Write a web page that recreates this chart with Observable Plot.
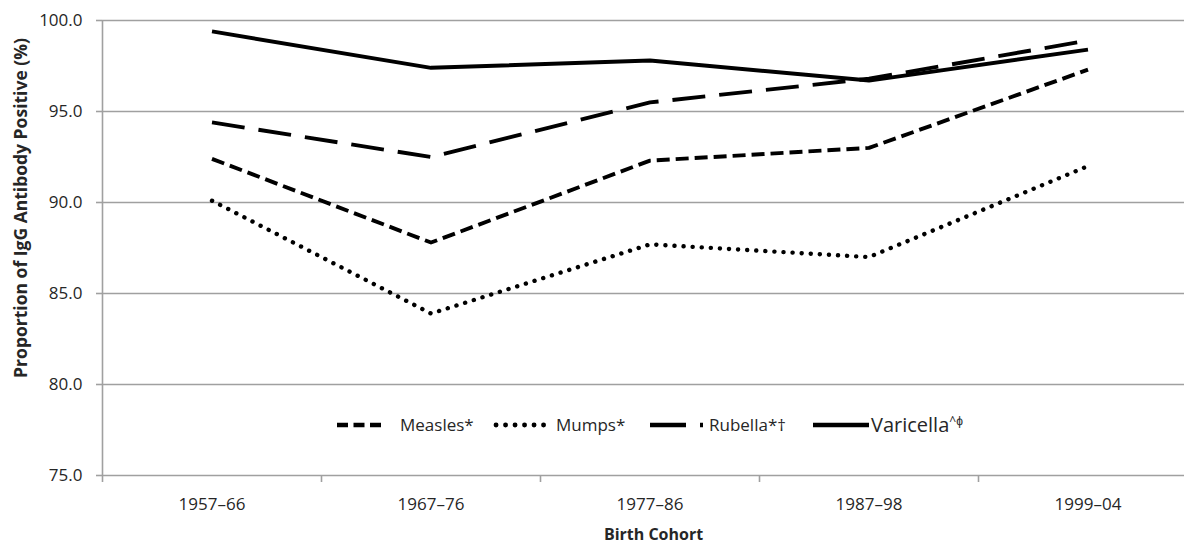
<!DOCTYPE html>
<html><head><meta charset="utf-8">
<script src="https://cdn.jsdelivr.net/npm/d3@7"></script>
<script src="https://cdn.jsdelivr.net/npm/@observablehq/plot@0.6"></script>
<style>
body{margin:0;background:#fff;font-family:"Open Sans",sans-serif}
#wrap{position:relative;width:1184px;height:544px}
</style>
</head><body><div id="wrap"></div>
<script>
const cohorts = ["1957–66", "1967–76", "1977–86", "1987–98", "1999–04"];
const measles = [92.4, 87.8, 92.3, 93.0, 97.3];
const mumps = [90.1, 83.9, 87.7, 87.0, 92.0];
const rubella = [94.4, 92.5, 95.5, 96.8, 98.9];
const varicella = [99.4, 97.4, 97.8, 96.7, 98.4];
const seriesNames = ["Measles*", "Mumps*", "Rubella*†", "Varicella"];
const yTicks = [75, 80, 85, 90, 95, 100];
const yTitle = "Proportion of IgG Antibody Positive (%)";
const xTitle = "Birth Cohort";

const seriesValues = [measles, mumps, rubella, varicella];
const styles = [
  {dash: "13,6", legendDash: "11,5.5", cap: "butt", w: 3.9},
  {dash: "0.1,9", legendDash: "0.1,9.4", cap: "round", w: 4.4},
  {dash: "33,14", legendDash: "36,14", cap: "butt", w: 3.9},
  {dash: null, legendDash: null, cap: "butt", w: 3.9}
];
const rows = seriesNames.flatMap((s, k) => cohorts.map((c, i) => ({series: s, k, idx: i, cohort: c, value: seriesValues[k][i]})));
const grid = "#a0a0a0";
const ink = "#262626";

const lineMarks = seriesNames.map((s, k) => Plot.line(rows.filter(r => r.k === k), {
  x: d => d.idx + 0.5, y: "value", stroke: "#000", strokeWidth: styles[k].w,
  strokeDasharray: styles[k].dash, strokeLinecap: styles[k].cap, strokeLinejoin: "round"
}));

const chart = Plot.plot({
  width: 1184, height: 544,
  marginLeft: 102, marginRight: 0, marginTop: 20, marginBottom: 69,
  style: {fontFamily: "Open Sans, sans-serif", background: "#fff", color: ink},
  x: {domain: [0, cohorts.length], range: [102, 102 + 219 * cohorts.length]},
  y: {domain: [75, 100]},
  marks: [
    Plot.ruleY(yTicks, {stroke: grid, strokeWidth: 1.6}),
    Plot.ruleX([0], {y1: 75, y2: 100, stroke: grid, strokeWidth: 1.6}),
    Plot.axisY({ticks: yTicks, tickSize: 6, tickPadding: 14, tickFormat: d3.format(".1f"), stroke: grid, strokeWidth: 1.6, fill: ink, fontSize: 17, label: null}),
    Plot.axisX({ticks: d3.range(cohorts.length), tickSize: 7, tickFormat: () => "", stroke: grid, strokeWidth: 1.6, label: null}),
    Plot.axisX({ticks: cohorts.map((c, i) => i + 0.5), tickSize: 0, tickPadding: 22, tickFormat: v => cohorts[Math.round(v - 0.5)], fill: ink, fontSize: 17, label: null}),
    ...lineMarks,
    Plot.text([yTitle], {frameAnchor: "left", textAnchor: "middle", lineAnchor: "middle", rotate: -90, dx: -81, dy: -40, fontWeight: "bold", fontSize: 17.5, fill: ink}),
    Plot.text([xTitle], {frameAnchor: "bottom", textAnchor: "middle", lineAnchor: "middle", dx: 10, dy: 59, fontWeight: "bold", fontSize: 16, fill: ink})
  ]
});
document.getElementById("wrap").appendChild(chart);

// legend (inside plot area, as in the reference)
const svg = d3.select(chart);
const lg = svg.append("g").attr("class", "legend").attr("text-anchor", "start");
const legendLayout = [
  {x1: 337, x2: 384, tx: 400, size: 17},
  {x1: 496, x2: 548, tx: 556, size: 17},
  {x1: 650, x2: 703, tx: 709, size: 17},
  {x1: 813, x2: 869, tx: 871, size: 20}
];
const ly = 425;
seriesNames.forEach((s, k) => {
  const L = legendLayout[k];
  lg.append("line").attr("x1", L.x1).attr("x2", L.x2).attr("y1", ly).attr("y2", ly)
    .attr("stroke", "#000").attr("stroke-width", styles[k].w + 0.4)
    .attr("stroke-dasharray", styles[k].legendDash).attr("stroke-linecap", k === 1 ? "round" : "butt");
  const t = lg.append("text").attr("x", L.tx).attr("y", ly).attr("dy", "0.35em")
    .attr("font-size", L.size).attr("fill", ink).text(s);
  if (k === 3) t.append("tspan").attr("font-size", 12).attr("dy", "-0.6em").text("^ϕ");
});
</script>
</body></html>
